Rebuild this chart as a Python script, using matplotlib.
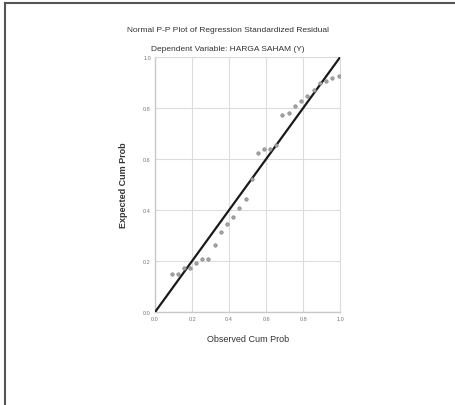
import numpy as np
import matplotlib
matplotlib.use('Agg')
import matplotlib.pyplot as plt
from matplotlib.lines import Line2D

# observed vs expected cumulative probability
obs = [0.090, 0.123, 0.159, 0.189, 0.222, 0.256, 0.288, 0.323, 0.355, 0.391,
       0.423, 0.456, 0.490, 0.523, 0.555, 0.589, 0.622, 0.654, 0.688, 0.723,
       0.757, 0.789, 0.823, 0.856, 0.892, 0.924, 0.958, 0.995]
exp = [0.148, 0.148, 0.171, 0.171, 0.192, 0.209, 0.209, 0.261, 0.314, 0.344,
       0.373, 0.409, 0.443, 0.520, 0.625, 0.638, 0.638, 0.654, 0.774, 0.780,
       0.808, 0.826, 0.847, 0.869, 0.898, 0.905, 0.916, 0.925]
ticks = [0.0, 0.2, 0.4, 0.6, 0.8, 1.0]
ticklab = ['0.0', '0.2', '0.4', '0.6', '0.8', '1.0']

plt.rcParams['font.family'] = ['Liberation Sans Narrow', 'Liberation Sans', 'DejaVu Sans']

fig = plt.figure(figsize=(4.56, 4.06), dpi=100)
ax = fig.add_axes([0.340, 0.229, 0.406, 0.628])

ax.plot([0, 1], [0, 1], color='#1a1a1a', lw=1.6, zorder=3)
ax.scatter(obs, exp, s=6, facecolor='#a8a8a8', edgecolor='#808080', lw=0.5, zorder=4)

ax.set_xlim(0, 1)
ax.set_ylim(0, 1)
ax.set_xticks(ticks)
ax.set_yticks(ticks)
ax.set_xticklabels(ticklab, fontsize=4, color='#777777')
ax.set_yticklabels(ticklab, fontsize=4, color='#777777')
ax.tick_params(length=0, pad=3)
ax.grid(True, color='#dcdcdc', lw=0.8)
ax.set_axisbelow(True)
for s in ['top', 'right']:
    ax.spines[s].set_color('#dcdcdc')
    ax.spines[s].set_linewidth(0.8)
for s in ['left', 'bottom']:
    ax.spines[s].set_color('#c8c8c8')
    ax.spines[s].set_linewidth(1.0)

ax.set_xlabel('Observed Cum Prob', fontsize=6.5, color='#333333', labelpad=9)
ax.set_ylabel('Expected Cum Prob', fontsize=6.5, color='#333333', fontweight='bold', labelpad=11)

fig.text(0.5, 0.926, 'Normal P-P Plot of Regression Standardized Residual',
         ha='center', va='center', fontsize=6, color='#333333')
fig.text(0.5, 0.877, 'Dependent Variable: HARGA SAHAM (Y)',
         ha='center', va='center', fontsize=6, color='#333333')

# frame on top and left of the image
fig.add_artist(Line2D([0.011, 0.011], [0.0, 0.989], transform=fig.transFigure, color='#555555', lw=1.5))
fig.add_artist(Line2D([0.011, 1.0], [0.989, 0.989], transform=fig.transFigure, color='#555555', lw=1.5))

fig.savefig('out.png', dpi=100)
